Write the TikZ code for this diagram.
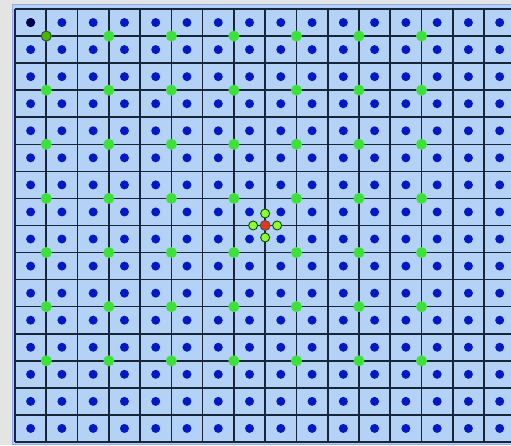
\documentclass[tikz,border=0pt]{standalone}
\usepackage{xcolor}
\usepackage{tikz}
\definecolor{cellblue}{HTML}{B4D2F6}
\definecolor{gridline}{HTML}{18243A}
\definecolor{dotblue}{HTML}{0418C4}
\definecolor{dotgreen}{HTML}{3EE03A}
\definecolor{pale}{HTML}{E4E4E4}

\begin{document}
\begin{tikzpicture}[
      x=1pt, y=-1pt,
      cell/.style={draw=gridline, line width=1.6pt},
      sensor/.style={circle, fill=dotblue, inner sep=0pt, minimum size=9pt},
      anchorpt/.style={circle, fill=dotgreen, inner sep=0pt, minimum size=11pt},
      probe/.style={circle, draw=black!70!green, line width=0.9pt, fill=green!55!yellow!80!white, inner sep=0pt, minimum size=9pt}
    ]
    \useasboundingbox (0,0) rectangle (511,445);
    \fill[pale] (0,0) rectangle (511,445);
    \fill[cellblue, draw=cellblue!80!blue] (12,4) rectangle (511,444);
    % grid
    \foreach \i in {0,...,15}
      \draw[cell] ({15+31.27*\i},9) -- ({15+31.27*\i},442);
    \foreach \j in {0,...,16}
      \draw[cell] (15,{9+27.06*\j}) -- (511,{9+27.06*\j});
    % cell centres
    \foreach \i in {0,...,15}
      \foreach \j in {0,...,15}
        \node[sensor] (s-\i-\j) at ({15+31.27*(\i+0.5)},{9+27.06*(\j+0.5)}) {};
    \node[sensor, fill=blue!30!black] at (s-0-0) {};
    % anchors on every second crossing
    \foreach \i in {1,3,...,13}
      \foreach \j in {1,3,...,13}
        \node[anchorpt] (a-\i-\j) at ({15+31.27*\i},{9+27.06*\j}) {};
    \node[anchorpt, fill=green!45!olive, draw=black!75, line width=0.9pt, minimum size=10pt] at (a-1-1) {};
    % target and its neighbours
    \coordinate (c) at ({15+31.27*8},{9+27.06*8});
    \node[probe] (up) at ([yshift=-12pt]c) {};
    \node[probe] (down) at ([yshift=12pt]c) {};
    \node[probe] (left) at ([xshift=-12pt]c) {};
    \node[probe] (right) at ([xshift=12pt]c) {};
    \node[circle, draw=black!70, line width=0.9pt, fill=red!55!brown, inner sep=0pt, minimum size=10pt] (target) at (c) {};
  \end{tikzpicture}
\end{document}
